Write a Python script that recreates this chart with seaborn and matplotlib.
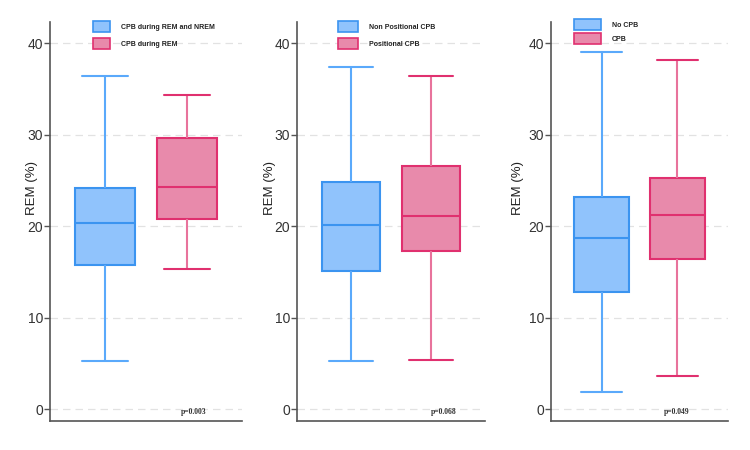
import numpy as np
import pandas as pd
import matplotlib
matplotlib.use("Agg")
import matplotlib.pyplot as plt
from matplotlib.patches import Patch
import seaborn as sns

# Five-number summaries: [min, Q1, median, Q3, max]
p1_labels = ["CPB during REM and NREM", "CPB during REM"]
p1_blue = [5.2, 15.7, 20.3, 24.2, 36.4]
p1_pink = [15.3, 20.8, 24.3, 29.6, 34.3]
p1_p = "p=0.003"

p2_labels = ["Non Positional CPB", "Positional CPB"]
p2_blue = [5.2, 15.1, 20.1, 24.8, 37.4]
p2_pink = [5.4, 17.3, 21.1, 26.6, 36.4]
p2_p = "p=0.068"

p3_labels = ["No CPB", "CPB"]
p3_blue = [1.9, 12.8, 18.7, 23.2, 39.0]
p3_pink = [3.6, 16.4, 21.2, 25.2, 38.1]
p3_p = "p=0.049"

y_ticks = [0, 10, 20, 30, 40]
y_label = "REM (%)"

fill_cols = ["#90c3fc", "#e88aab"]
edge_cols = ["#3b94f0", "#e0306f"]
whisk_cols = ["#5aa9fb", "#e8739c"]

sns.set_theme(style="white")
plt.rcParams["font.family"] = ["Liberation Sans", "DejaVu Sans"]

fig = plt.figure(figsize=(7.5, 4.5), dpi=100)
H = 450.0
W = 750.0
bottom_px, top_px = 421, 22
# (axis left px, axis right px, labels, blue, pink, p text, p x frac, legend patch left/top px,
#  legend handle length, legend label spacing, ylabel right-edge x px)
panels = [
    (50, 242, p1_labels, p1_blue, p1_pink, p1_p, 0.75, (93, 21), 2.45, 0.85, 37.5),
    (297, 485, p2_labels, p2_blue, p2_pink, p2_p, 0.78, (338, 21), 2.9, 0.85, 275.5),
    (551, 728, p3_labels, p3_blue, p3_pink, p3_p, 0.71, (574, 19), 3.9, 0.4, 524),
]
LEG_FS = 5.0

for (x0, x1, labels, blue, pink, ptxt, px, (lx, ly), hl, ls, ylx) in panels:
    aw = x1 - x0
    ah = bottom_px - top_px
    ax = fig.add_axes([x0 / W, 1 - bottom_px / H, aw / W, ah / H])
    df = pd.DataFrame({
        "group": [labels[0]] * len(blue) + [labels[1]] * len(pink),
        "value": blue + pink,
    })
    sns.boxplot(data=df, x="group", y="value", hue="group", order=labels,
                hue_order=labels, palette=fill_cols, whis=np.inf, width=0.73,
                linewidth=1.5, legend=False, ax=ax, saturation=1)
    for i, cont in enumerate(ax.containers):
        b = cont.boxes[0]
        b.set_facecolor(fill_cols[i])
        b.set_edgecolor(edge_cols[i])
        b.set_linewidth(1.5)
        cont.medians[0].set_color(edge_cols[i])
        cont.medians[0].set_linewidth(1.5)
        for w in cont.whiskers:
            w.set_color(whisk_cols[i])
            w.set_linewidth(1.5)
        for c in cont.caps:
            c.set_color(edge_cols[i] if i == 1 else whisk_cols[i])
            c.set_linewidth(1.5)
            cx = np.mean(c.get_xdata())
            c.set_xdata([cx - 0.275, cx + 0.275])
    ax.set_xlim(-0.67, 1.67)
    ax.set_ylim(-1.31, 42.3)
    ax.set_yticks(y_ticks)
    ax.set_yticklabels([str(t) for t in y_ticks], fontsize=10, color="#333333")
    ax.set_xticks([])
    ax.set_xlabel("")
    ax.set_ylabel(y_label, fontsize=9.5, color="#222222")
    ax.yaxis.set_label_coords((ylx - x0) / aw, (bottom_px - 188) / ah)
    for t in y_ticks:
        ax.axhline(t, color="#e2e2e2", linewidth=0.9, linestyle=(0, (6, 4)), zorder=0)
    ax.tick_params(axis="y", length=4, width=1, color="#555555", direction="out", pad=1, left=True)
    for s in ["top", "right"]:
        ax.spines[s].set_visible(False)
    for s in ["left", "bottom"]:
        ax.spines[s].set_color("#555555")
        ax.spines[s].set_linewidth(1.2)
    ax.set_facecolor("white")
    ax.text(px, 0.023, ptxt, transform=ax.transAxes, ha="center", va="center",
            fontsize=5.5, fontweight="bold", color="#333333",
            family=["Liberation Serif", "DejaVu Serif"])
    handles = [Patch(facecolor=fill_cols[i], edgecolor=edge_cols[i], linewidth=1.2, label=labels[i])
               for i in range(2)]
    leg = ax.legend(handles=handles, loc="upper left",
                    bbox_to_anchor=((lx - x0) / aw, (bottom_px - ly) / ah),
                    frameon=False, handlelength=hl, handleheight=2.1, handletextpad=1.6,
                    labelspacing=ls, borderpad=0.0, borderaxespad=0,
                    prop={"size": LEG_FS, "weight": "bold"})
    for t in leg.get_texts():
        t.set_color("#222222")

fig.patch.set_facecolor("white")
fig.savefig("out.png", dpi=100, facecolor="white")
